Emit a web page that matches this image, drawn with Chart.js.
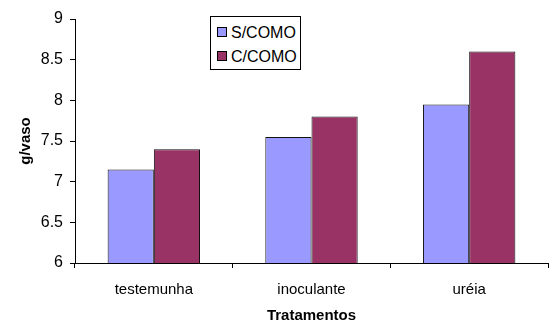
<!DOCTYPE html>
<html>
<head>
<meta charset="utf-8">
<script src="https://cdn.jsdelivr.net/npm/chart.js@4.4.0/dist/chart.umd.min.js"></script>
<style>
  html, body { margin: 0; padding: 0; background: #fff; }
  #wrap { position: relative; width: 549px; height: 327px; }
  #legend {
    position: absolute; left: 210px; top: 16px; width: 89px; height: 52px;
    border: 1px solid #000; background: #fff;
    font-family: "Liberation Sans", Arial, sans-serif; font-size: 16px; color: #000;
  }
  #legend .item { position: absolute; left: 6px; height: 18px; line-height: 18px; white-space: nowrap; }
  #legend .sw { display: inline-block; width: 8px; height: 8px; border: 1px solid #000; margin-right: 4px; vertical-align: 1px; }
</style>
</head>
<body>
<div id="wrap">
  <canvas id="chart" width="549" height="327"></canvas>
  <div id="legend"></div>
</div>
<script>
const categories = ['testemunha', 'inoculante', 'uréia'];
const seriesNames = ['S/COMO', 'C/COMO'];
const semComo = [7.15, 7.55, 7.95];
const comComo = [7.4, 7.8, 8.6];
const yTicks = [6, 6.5, 7, 7.5, 8, 8.5, 9];
const colors = ['#9999FF', '#993366'];

document.addEventListener('DOMContentLoaded', () => {
    const legend = document.getElementById('legend');
    seriesNames.forEach((name, i) => {
        const item = document.createElement('div');
        item.className = 'item';
        item.style.top = (7 + i * 24) + 'px';
        item.innerHTML = `<span class="sw" style="background:${colors[i]}"></span>${name}`;
        legend.appendChild(item);
    });

    const font = { family: '"Liberation Sans", Arial, sans-serif', size: 16 };

    new Chart(document.getElementById('chart'), {
        type: 'bar',
        data: {
            labels: categories,
            datasets: [
                { label: seriesNames[0], data: semComo, backgroundColor: colors[0], borderColor: '#111', borderWidth: 1 },
                { label: seriesNames[1], data: comComo, backgroundColor: colors[1], borderColor: '#111', borderWidth: 1 }
            ]
        },
        options: {
            responsive: false,
            animation: false,
            layout: { padding: { top: 19, right: 1, left: 6, bottom: 0 } },
            plugins: { legend: { display: false }, tooltip: { enabled: false } },
            datasets: { bar: { categoryPercentage: 0.586, barPercentage: 1 } },
            scales: {
                x: {
                    grid: { drawOnChartArea: false, drawTicks: true, tickLength: 5, color: '#000' },
                    border: { color: '#000', width: 1 },
                    ticks: { color: '#000', font: { ...font, size: 15 }, padding: 13 },
                    title: { display: true, text: 'Tratamentos', color: '#000', font: { ...font, size: 15, weight: 'bold' }, padding: { top: 12, bottom: 2 } },
                    afterFit: s => { s.height = 64; }
                },
                y: {
                    min: 6, max: 9,
                    afterBuildTicks: s => { s.ticks = yTicks.map(v => ({ value: v })); },
                    grid: { drawOnChartArea: false, drawTicks: true, tickLength: 5, color: '#000' },
                    border: { color: '#000', width: 1 },
                    ticks: { color: '#000', font, padding: 7, callback: v => String(v) },
                    title: { display: true, text: 'g/vaso', color: '#000', font: { ...font, size: 15, weight: 'bold' }, padding: { top: 11, bottom: 2 } },
                    afterFit: s => { s.width = 69; }
                }
            }
        }
    });
});
</script>
</body>
</html>
